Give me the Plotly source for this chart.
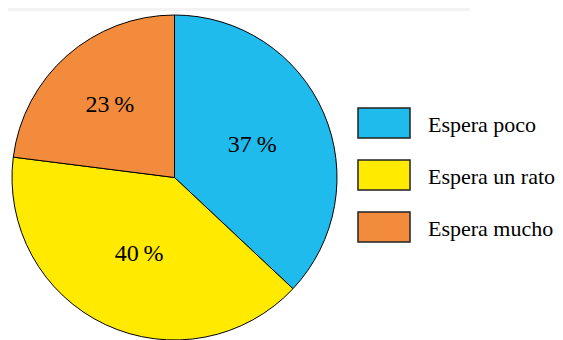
import plotly.graph_objects as go

labels = ["Espera poco", "Espera un rato", "Espera mucho"]
values = [37, 40, 23]
colors = ["#1FBBEC", "#FFEA00", "#F28C3C"]

# page body adds an 8px margin, so the figure is sized to what is left
OFF = 8
W, H = 563 - OFF, 340 - OFF
ML, MT = 12 - OFF, 15 - OFF

def px_x(x):
    # x given in screen pixels
    return (x - OFF - ML) / (W - ML)

def px_y(y):
    return (H - (y - OFF)) / (H - MT)

fig = go.Figure(go.Pie(
    labels=labels, values=values, sort=False, direction="clockwise",
    marker=dict(colors=colors, line=dict(color="black", width=1)),
    texttemplate="%{value}\u2009%", textposition="inside",
    insidetextorientation="horizontal",
    textfont=dict(family="Liberation Serif", size=24, color="black"),
    domain=dict(x=[0, (H - MT) / (W - ML)], y=[0, 1]),
    showlegend=False, hoverinfo="label+percent",
))

# legend drawn by hand: large boxes like the original
shapes = [dict(type="rect", xref="paper", yref="paper", x0=px_x(OFF), x1=px_x(470),
               y0=px_y(OFF + 3), y1=px_y(OFF), fillcolor="#f3f3f3", line=dict(width=0), layer="below")]
annotations = []
for i, (lab, col) in enumerate(zip(labels, colors)):
    top = 108 + i * 52
    shapes.append(dict(type="rect", xref="paper", yref="paper",
                       x0=px_x(358), x1=px_x(410), y0=px_y(top + 30), y1=px_y(top),
                       fillcolor=col, line=dict(color="#222", width=1.5)))
    annotations.append(dict(x=px_x(426), y=px_y(top + 16), xref="paper", yref="paper",
                            text=lab, showarrow=False, xanchor="left", yanchor="middle",
                            font=dict(family="Liberation Serif", size=22, color="black")))

fig.update_layout(width=W, height=H, margin=dict(l=ML, r=0, t=MT, b=0),
                  paper_bgcolor="white", plot_bgcolor="white",
                  shapes=shapes, annotations=annotations)

fig.write_html("out.html")
